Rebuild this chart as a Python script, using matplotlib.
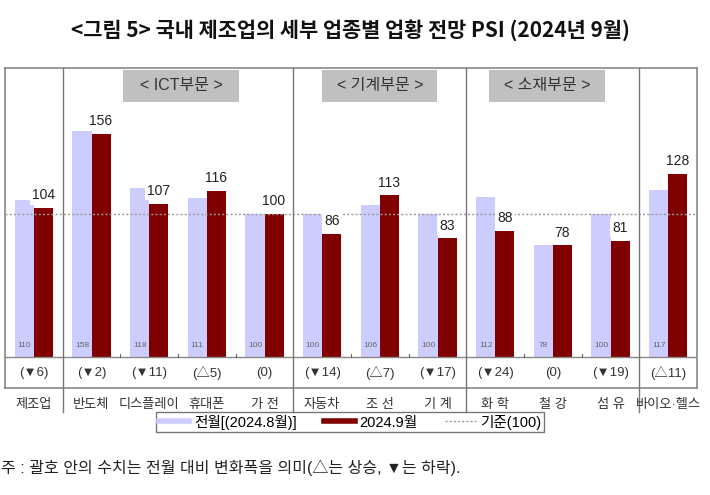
import matplotlib
matplotlib.use('Agg')
import matplotlib.pyplot as plt
from matplotlib.patches import Rectangle
from matplotlib.lines import Line2D
import matplotlib.transforms as mtransforms

plt.rcParams['font.family'] = ['Liberation Sans', 'Noto Sans CJK KR', 'DejaVu Sans']

# 데이터
categories = ['제조업', '반도체', '디스플레이', '휴대폰', '가 전', '자동차', '조 선', '기 계',
              '화 학', '철 강', '섬 유', '바이오·헬스']
prev_month = [110, 158, 118, 111, 100, 100, 106, 100, 112, 78, 100, 117]
this_month = [104, 156, 107, 116, 100, 86, 113, 83, 88, 78, 81, 128]
changes = ['(▼6)', '(▼2)', '(▼11)', '(△5)', '(0)', '(▼14)', '(△7)', '(▼17)',
           '(▼24)', '(0)', '(▼19)', '(△11)']
sections = ['< ICT부문 >', '< 기계부문 >', '< 소재부문 >']
section_centers = [3.05, 6.5, 9.4]
separators = [1, 5, 8, 11]

fig = plt.figure(figsize=(7.1, 4.95), dpi=100)
ax = fig.add_axes([5/710, 1-388/495, 692/710, 320/495])
ax.set_xlim(0, 12)
ax.set_ylim(-21.7, 202)

w = 0.33
xs = [i + 0.5 for i in range(len(categories))]
prev_c = '#CCCCFF'
cur_c = '#800000'

ax.bar([x - w/2 for x in xs], prev_month, width=w, color=prev_c, zorder=2)
ax.bar([x + w/2 for x in xs], this_month, width=w, color=cur_c, zorder=2)

# 기준선 100
ax.axhline(100, color='#999999', ls=(0, (1.5, 1.5)), lw=1, zorder=3)

# 값 라벨
for x, p, c in zip(xs, prev_month, this_month):
    ax.text(x - w/2, 8, str(p), ha='center', va='center', fontsize=6,
            color='#666666', zorder=4)
    ax.text(x + w/2, c + 4, str(c), ha='center', va='bottom', fontsize=10,
            color='#222222', zorder=5,
            bbox=dict(boxstyle='square,pad=0.15', fc='white', ec='none'))

# 변화폭 행
ax.axhline(0, color='#888888', lw=1, zorder=3)
for x, ch in zip(xs, changes):
    ax.text(x, -11, ch, ha='center', va='center', fontsize=9.5, color='#333333')

# 작은 눈금
for b in [2, 3, 4, 6, 7, 9, 10]:
    ax.plot([b, b], [0, 2], color='#666666', lw=0.8, zorder=3)

# 구분선
trans = mtransforms.blended_transform_factory(ax.transData, ax.transAxes)
for s in separators:
    ax.plot([s, s], [1, -0.075], color='#777777', lw=1, transform=trans,
            clip_on=False, zorder=3)

# 부문 박스
for cx, name in zip(section_centers, sections):
    ax.add_patch(Rectangle((cx - 1.0, 178.5), 2.0, 22, fc='#C0C0C0', ec='none', zorder=3))
    ax.text(cx, 189.5, name, ha='center', va='center', fontsize=11.5,
            color='#333333', zorder=4)

# 업종 라벨
for x, cat in zip(xs, categories):
    ax.text(x, -0.053, cat, ha='center', va='center', fontsize=9.5,
            color='#333333', transform=trans)

ax.set_xticks([])
ax.set_yticks([])
for sp in ax.spines.values():
    sp.set_color('#888888')
    sp.set_linewidth(1.2)

# 범례
handles = [Line2D([], [], color=prev_c, lw=4),
           Line2D([], [], color=cur_c, lw=4),
           Line2D([], [], color='#999999', lw=1, ls=(0, (1.5, 1.5)))]
labels = ['전월[(2024.8월)]', '2024.9월', '기준(100)']
leg = fig.legend(handles, labels, loc='center', bbox_to_anchor=(350/710, 1-422/495),
                 ncol=3, fontsize=10.5, frameon=True, fancybox=False, handlelength=2.1,
                 columnspacing=1.9, borderpad=0.2, borderaxespad=0, handletextpad=0.3)
leg.get_frame().set_edgecolor('#555555')
leg.get_frame().set_linewidth(1)

# 제목
fig.text(0.493, 1-30/495, '<그림 5> 국내 제조업의 세부 업종별 업황 전망 PSI (2024년 9월)',
         ha='center', va='center', fontsize=15, fontweight='bold',
         family=['Noto Sans CJK KR', 'DejaVu Sans'], color='#111111')

# 주석
fig.text(1/710, 1-468/495, '주 : 괄호 안의 수치는 전월 대비 변화폭을 의미(△는 상승, ▼는 하락).',
         ha='left', va='center', fontsize=11.5, color='#222222')

fig.savefig('out.png', dpi=100)
